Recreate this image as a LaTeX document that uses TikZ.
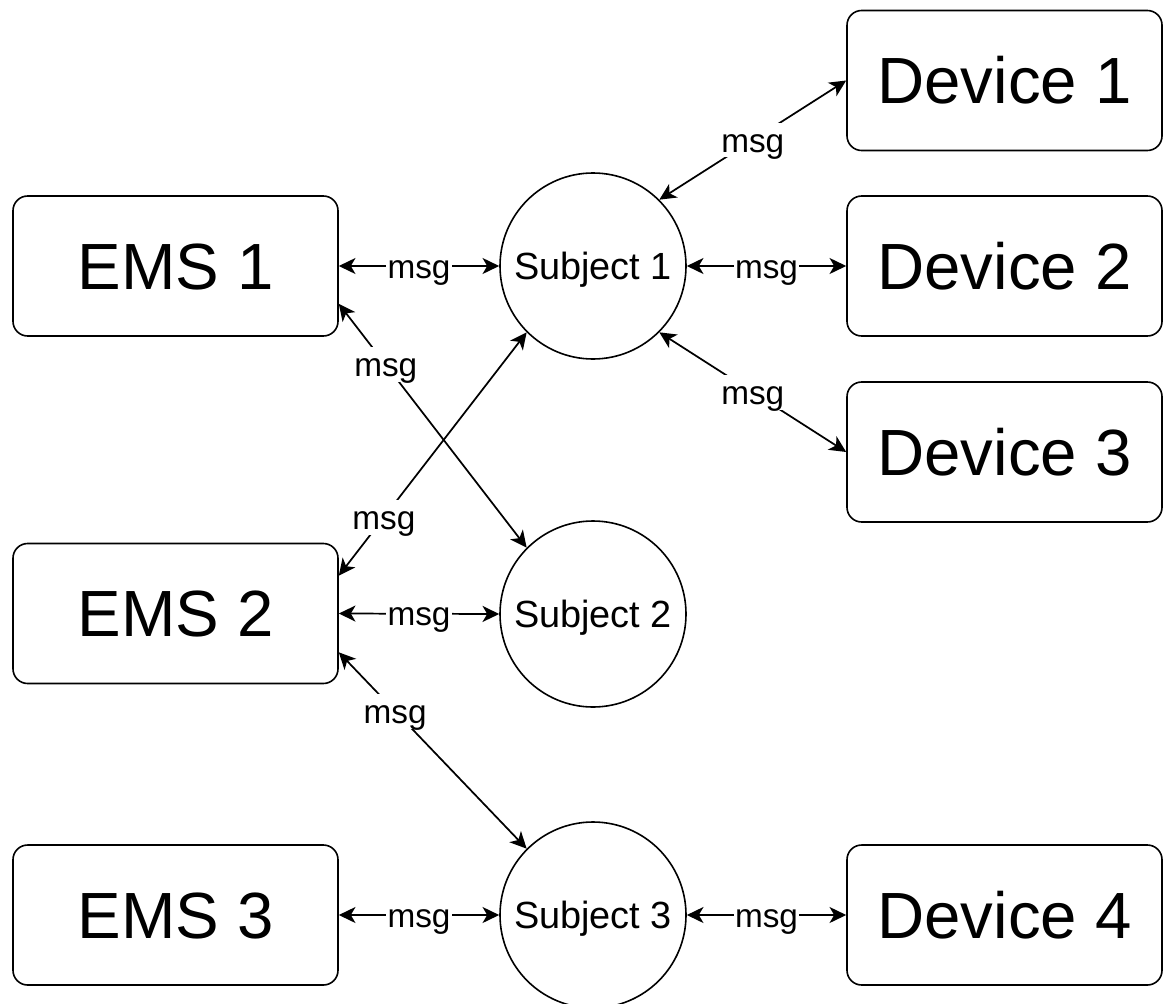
\documentclass[tikz,border=0pt]{standalone}
\usepackage{fontspec}
\setmainfont{Liberation Sans}
\usetikzlibrary{arrows.meta,calc}
\begin{document}
\begin{tikzpicture}[x=0.75pt,y=-0.75pt,
  box/.style={draw=black,line width=1.2pt,rounded corners=11pt,fill=white,
    minimum height=105pt,inner sep=0pt,
    font=\fontsize{49}{59}\selectfont,text height=35.1pt,text depth=0pt},
  emsbox/.style={box,minimum width=243.75pt},
  devbox/.style={box,minimum width=236.25pt},
  subj/.style={draw=black,line width=1.2pt,circle,minimum size=139.5pt,inner sep=0pt,
    font=\fontsize{28.4}{34}\selectfont,text height=20.3pt,text depth=0pt},
  tip/.tip={Stealth[length=12.5pt,width=12pt,inset=3.5pt]},
  conn/.style={line width=1.3pt,tip-tip},
  lbl/.style={fill=white,inner sep=1pt,font=\fontsize{25}{30}\selectfont,text height=21pt,text depth=3pt}
]
\useasboundingbox (0,0) rectangle (1163,1003);
\node[emsbox] (ems1) at (175.5,266) {EMS 1};
\node[emsbox] (ems2) at (175.5,613.5) {EMS 2};
\node[emsbox] (ems3) at (175.5,915) {EMS 3};
\node[subj] (s1) at (593,266) {Subject 1};
\node[subj] (s2) at (593,614) {Subject 2};
\node[subj] (s3) at (593,915) {Subject 3};
\node[devbox] (d1) at (1004.5,80.5) {Device 1};
\node[devbox] (d2) at (1004.5,266) {Device 2};
\node[devbox] (d3) at (1004.5,452) {Device 3};
\node[devbox] (d4) at (1004.5,915) {Device 4};

\draw[conn] (ems1.east) -- node[lbl]{msg} (s1.west);
\draw[conn] (s1.east) -- node[lbl]{msg} (d2.west);
\draw[conn] (s1.45) -- node[lbl]{msg} (d1.west);
\draw[conn] (s1.-45) -- node[lbl]{msg} (d3.west);
\draw[conn] ([yshift=24.75pt]ems1.south east) -- node[lbl,pos=0.25]{msg} (s2.135);
\draw[conn] ([yshift=-24.75pt]ems2.north east) -- node[lbl,pos=0.24]{msg} (s1.225);
\draw[conn] (ems2.east) -- node[lbl]{msg} (s2.west);
\draw[conn] ([yshift=24pt]ems2.south east) -- node[lbl,pos=0.3]{msg} (s3.135);
\draw[conn] (ems3.east) -- node[lbl]{msg} (s3.west);
\draw[conn] (s3.east) -- node[lbl]{msg} (d4.west);
\end{tikzpicture}
\end{document}
